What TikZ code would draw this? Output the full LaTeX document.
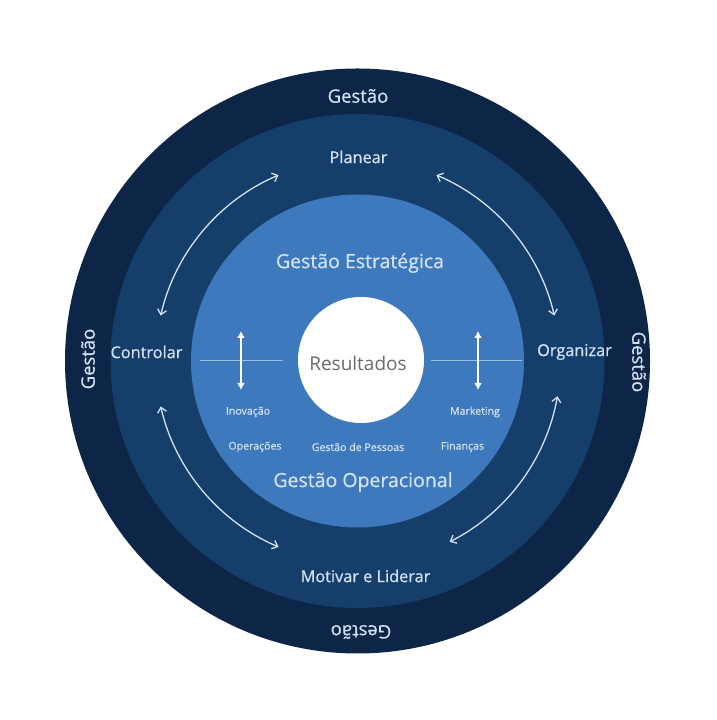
\documentclass[tikz,border=0pt]{standalone}
\usepackage{fontspec}
\setmainfont{Open Sans}
\newfontfamily\semib[FakeBold=0.6]{Open Sans}
\usetikzlibrary{arrows.meta}
\definecolor{ringOuter}{HTML}{0D2546}
\definecolor{ringMid}{HTML}{153E6B}
\definecolor{ringIn}{HTML}{3D79BC}
\definecolor{lbl}{HTML}{D3E2F3}
\definecolor{reslbl}{HTML}{6B6B6B}
\definecolor{sepline}{HTML}{9DBCE0}
\begin{document}
\begin{tikzpicture}[x=1pt,y=1pt,
  ring/.style={circle, inner sep=0pt, draw=none},
  gestao/.style={text=lbl, inner sep=0pt, font=\semib\fontsize{18.5}{20}\selectfont},
  phase/.style={text=lbl, inner sep=0pt, font=\semib\fontsize{16.3}{18}\selectfont},
  level/.style={text=lbl, inner sep=0pt, font=\semib\fontsize{19.5}{22}\selectfont},
  area/.style={text=lbl, inner sep=0pt, font=\semib\fontsize{10.6}{12}\selectfont},
  cycarrow/.style={draw=lbl, line width=1.3pt, {Straight Barb[length=5pt,width=9pt]}-{Straight Barb[length=5pt,width=9pt]}},
  updown/.style={draw=white, line width=2.6pt, {Latex[length=7pt,width=8pt]}-{Latex[length=7pt,width=8pt]}},
  sep/.style={draw=sepline, line width=0.8pt}]
\useasboundingbox (0,0) rectangle (716,720);
\fill[white] (0,0) rectangle (716,720);
\coordinate (C) at (357.5,359);
\node[ring, fill=ringOuter, minimum size=585pt] (outer) at (C) {};
\node[ring, fill=ringMid, minimum size=494pt] (mid) at (C) {};
\node[ring, fill=ringIn, minimum size=333pt] (inner) at (C) {};
\node[ring, fill=white, minimum size=126pt] (res) at (361,360) {};
\node[text=reslbl, font=\fontsize{19}{21}\selectfont] (restxt) at (358,357) {Resultados};
% outer ring labels
\node[gestao] (gtop) at (358,624) {Gestão};
\node[gestao, rotate=90] (gleft) at (88,361) {Gestão};
\node[gestao, rotate=-90] (gright) at (639,358) {Gestão};
\node[gestao, rotate=180] (gbot) at (361,88) {Gestão};
% middle ring labels
\node[phase] (planear) at (358.5,563) {Planear};
\node[phase] (controlar) at (146.5,368) {Controlar};
\node[phase] (organizar) at (574.5,368) {Organizar};
\node[phase] (motivar) at (365.5,144) {Motivar e Liderar};
% inner labels
\node[level] (estr) at (360,457) {Gestão Estratégica};
\node[level] (oper) at (363,238) {Gestão Operacional};
\node[area] (inov) at (248,308) {Inovação};
\node[area] (mkt) at (475,308) {Marketing};
\node[area] (ops) at (255,273) {Operações};
\node[area] (pess) at (358,273) {Gestão de Pessoas};
\node[area] (fin) at (462.5,273) {Finanças};
% separator lines
\coordinate (l1) at (200,360);
\coordinate (l2) at (283,360);
\coordinate (r1) at (431,360);
\coordinate (r2) at (522,360);
\draw[sep] (l1) -- (l2);
\draw[sep] (r1) -- (r2);
% vertical double arrows
\coordinate (la) at (241,389);
\coordinate (lb) at (241,330);
\coordinate (ra) at (478,389);
\coordinate (rb) at (478,330);
\draw[updown] (la) -- (lb);
\draw[updown] (ra) -- (rb);
% cycle arrows
\coordinate (tl) at ([shift={(167:202)}]C);
\coordinate (tr) at ([shift={(67:202)}]C);
\coordinate (br) at ([shift={(-10:203)}]C);
\coordinate (bl) at ([shift={(193:202)}]C);
\draw[cycarrow] (tl) arc[start angle=167, end angle=113, radius=202];
\draw[cycarrow] (tr) arc[start angle=67, end angle=13, radius=202];
\draw[cycarrow] (br) arc[start angle=-10, end angle=-63, radius=203];
\draw[cycarrow] (bl) arc[start angle=193, end angle=247, radius=202];
\end{tikzpicture}
\end{document}
